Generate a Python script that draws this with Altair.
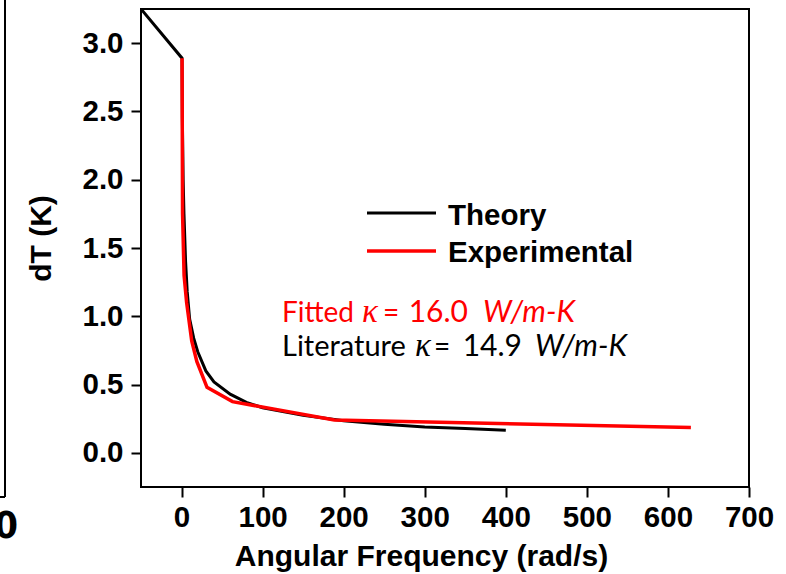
import altair as alt
import pandas as pd

# Theory curve: angular frequency (rad/s) vs temperature oscillation dT (K)
theory_omega = [-50, 0.6, 1, 2, 3, 5, 7, 10, 15, 20, 30, 40, 60, 80, 100,
                150, 200, 250, 300, 350, 400]
theory_dT = [3.25, 2.89, 2.45, 2.0, 1.75, 1.4, 1.18, 0.98, 0.84, 0.74, 0.6,
             0.52, 0.43, 0.37, 0.33, 0.275, 0.235, 0.21, 0.19, 0.178, 0.165]

# Measured points
exp_omega = [0.63, 1.26, 3.14, 6.28, 12.57, 18.85, 31.42, 62.83, 188.5, 628.3]
exp_dT = [2.89, 1.75, 1.30, 1.10, 0.82, 0.67, 0.48, 0.375, 0.24, 0.185]

x_ticks = [0, 100, 200, 300, 400, 500, 600, 700]
y_ticks = [0.0, 0.5, 1.0, 1.5, 2.0, 2.5, 3.0]
series_names = ["Theory", "Experimental"]
series_colors = ["#000000", "#ff0000"]

theory = pd.DataFrame({"omega": theory_omega, "dT": theory_dT, "series": "Theory"})
experimental = pd.DataFrame({"omega": exp_omega, "dT": exp_dT, "series": "Experimental"})

SANS = "Liberation Sans"
NOTE = "Lato"
NOTE_SIZE = 28

x_enc = alt.X(
    "omega:Q",
    scale=alt.Scale(domain=[-50, 700], nice=False, zero=False),
    axis=alt.Axis(
        values=x_ticks, format="d", title="Angular Frequency (rad/s)",
        titleX=280, titleY=78, titleAlign="center", titleBaseline="alphabetic",
        labelPadding=6, labelFlush=False, labelOverlap=False,
    ),
)
y_enc = alt.Y(
    "dT:Q",
    scale=alt.Scale(domain=[-0.25, 3.25], nice=False, zero=False),
    axis=alt.Axis(
        values=y_ticks, format=".1f", title="dT (K)",
        titleAngle=270, titleX=-91, titleY=229, titleAlign="center",
        titleBaseline="alphabetic", labelPadding=8, labelFlush=False,
        labelOverlap=False,
    ),
)
color_enc = alt.Color(
    "series:N",
    scale=alt.Scale(domain=series_names, range=series_colors),
    legend=None,
)

theory_line = alt.Chart(theory).mark_line(strokeWidth=3, clip=True).encode(
    x=x_enc, y=y_enc, color=color_enc, order=alt.Order("omega:Q")
)
exp_line = alt.Chart(experimental).mark_line(strokeWidth=3.5, clip=True).encode(
    x="omega:Q", y="dT:Q", color=color_enc, order=alt.Order("omega:Q")
)

one = alt.Data(values=[{}])


def rule(x1, x2, y1, y2, color, width):
    return alt.Chart(one).mark_rule(color=color, strokeWidth=width).encode(
        x=alt.value(x1), x2=alt.value(x2), y=alt.value(y1), y2=alt.value(y2)
    )


def label(txt, x, y, size, color="#000000", font=SANS, weight="normal",
          style="normal", align="left"):
    return alt.Chart(one).mark_text(
        text=txt, font=font, fontSize=size, fontWeight=weight, fontStyle=style,
        color=color, align=align, baseline="alphabetic",
    ).encode(x=alt.value(x), y=alt.value(y))


# legend
legend = [
    rule(226, 295, 204, 204, series_colors[0], 3),
    rule(226, 295, 242, 242, series_colors[1], 3.5),
    label("Theory", 307, 216, 29.5, weight="bold"),
    label("Experimental", 307, 253, 29.5, weight="bold"),
]

# thermal conductivity notes
RED = "#ff0000"
BLACK = "#000000"
notes = [
    label("Fitted", 141, 313, NOTE_SIZE, RED, NOTE),
    label("κ", 221, 313, 33, RED, "Liberation Serif", style="italic"),
    label("=", 242, 313, NOTE_SIZE, RED, NOTE),
    label("16.0", 327, 313, 30, RED, NOTE, align="right"),
    label("W/m-K", 342, 313, 30, RED, NOTE, style="italic"),
    label("Literature", 141, 347, 29, BLACK, NOTE),
    label("κ", 274, 347, 33, BLACK, "Liberation Serif", style="italic"),
    label("=", 293, 347, NOTE_SIZE, BLACK, NOTE),
    label("14.9", 381, 347, 30, BLACK, NOTE, align="right"),
    label("W/m-K", 394, 347, 30, BLACK, NOTE, style="italic"),
]

# edge of the neighbouring panel
neighbour = [
    rule(-136, -136, -9, 488, BLACK, 2),
    rule(-141, -136, 488, 488, BLACK, 2),
    label("00", -123, 529, 38, weight="bold", font="DejaVu Sans Condensed", align="right"),
]

chart = alt.layer(theory_line, exp_line, *legend, *notes, *neighbour).properties(
    width=608,
    height=478,
    autosize=alt.AutoSizeParams(type="none"),
    padding={"left": 141, "top": 9, "right": 37, "bottom": 87},
    background="#ffffff",
).configure_view(
    stroke="#000000", strokeWidth=2
).configure_axis(
    domain=False, grid=False,
    labelFont=SANS, labelFontSize=29.5, labelFontWeight="bold", labelColor="#000000",
    titleFont=SANS, titleFontSize=30, titleFontWeight="bold", titleColor="#000000",
    tickSize=10, tickWidth=2, tickColor="#000000",
)

chart.save("out.html", embed_options={"renderer": "svg", "actions": False})
